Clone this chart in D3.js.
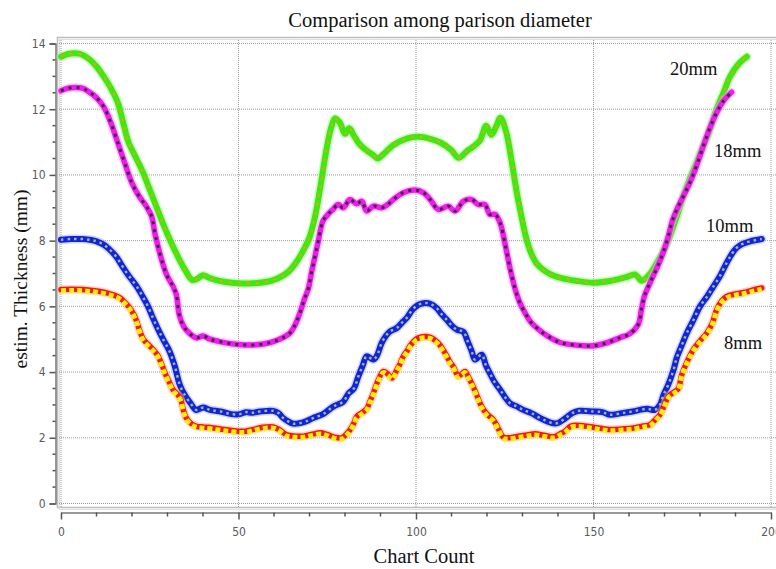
<!DOCTYPE html>
<html>
<head>
<meta charset="utf-8">
<script src="https://cdn.jsdelivr.net/npm/d3@7"></script>
<style>
  body { margin: 0; background: #fff; }
  svg { display: block; }
</style>
</head>
<body>
<div id="chart"></div>
<script>
// values (chart count, estim. thickness mm)
const x20 = [0,2,4,6,8,10,12,14,16,17.5,19,21,23,25,27,29,31,33,35,37,38.5,40,41.5,43,46,50,54,58,61,64,66,68,70,71.5,73,74.5,76,77.2,78.5,80,81.2,82.5,84,86,88,89.2,91,93.5,96,99,101,104,107,110,112,114.3,116,118,119.8,121.2,122.5,123.8,125.3,126.5,127.5,128.5,129.5,131,132.5,134,136,138,141,145,150,155,159,161.7,163.6,166,168,170,171.5,173.5,175.3,177,179,181,182.5,184.5,186.6,188.5,190.8,193.2]
const y20 = [13.6,13.68,13.7,13.66,13.52,13.3,13.0,12.65,12.2,11.6,11.0,10.55,10.1,9.55,9.0,8.45,7.95,7.5,7.1,6.8,6.85,6.95,6.88,6.82,6.75,6.7,6.7,6.75,6.85,7.05,7.3,7.65,8.1,8.7,9.6,10.6,11.4,11.72,11.6,11.25,11.42,11.2,10.95,10.75,10.6,10.5,10.65,10.9,11.05,11.15,11.16,11.1,10.98,10.75,10.52,10.72,10.85,11.05,11.5,11.22,11.45,11.74,11.35,10.7,10.05,9.4,8.85,8.1,7.6,7.3,7.1,6.97,6.86,6.78,6.72,6.78,6.88,6.97,6.78,7.0,7.35,7.75,8.13,8.75,9.35,9.85,10.37,10.9,11.3,11.95,12.5,13.0,13.37,13.6]

const x18 = [0,2,4,6,8,10,12,14,16,18,20,22,24,25.5,26.5,28,29.8,31.6,32.5,33.3,34.5,36,38.2,40,42,45,50,55,59,62,64.5,66,67.3,68.5,69.7,70.6,71.5,72.5,73.8,75.2,76.6,78.1,79.5,81.4,83.3,84.7,86.1,88,90.3,92,93.6,96.4,99.7,102.1,104,106.3,109.1,111,113.4,115.7,117.5,119.4,120.8,122.3,123.7,125,126.5,128,129.3,131,132.5,134.5,137,140.6,145,150,154,157.5,160,162.6,163.5,164.3,165.9,168,169.5,171,172.2,173.5,175.8,177.5,179,181,182.5,184.7,186.6,188.9]
const y18 = [12.56,12.64,12.66,12.64,12.52,12.35,12.08,11.6,10.98,10.35,9.75,9.35,9.05,8.75,8.2,7.55,6.95,6.6,6.35,5.75,5.4,5.2,5.04,5.1,5.0,4.92,4.84,4.83,4.9,5.02,5.19,5.45,5.8,6.2,6.55,7.05,7.5,8.0,8.6,8.8,8.95,9.1,9.0,9.25,9.12,9.2,8.9,9.05,9.0,9.1,9.25,9.46,9.54,9.46,9.25,8.95,9.05,8.9,9.2,9.25,9.1,9.1,8.8,8.8,8.54,7.95,7.15,6.5,6.1,5.75,5.5,5.3,5.1,4.9,4.82,4.8,4.9,5.05,5.15,5.45,5.9,6.3,6.71,7.2,7.6,8.1,8.6,8.95,9.46,9.85,10.27,10.9,11.35,11.9,12.25,12.52]

const x10 = [0,3,6,8.5,10,12,13.5,15.5,17,18.5,20,21.5,23,24.5,26,27.5,29,30.5,32,33.5,35,36.5,38,39,40.1,42,45,48,50.4,52,54,56,59.8,61.3,62.6,64,65.4,67,69,71,73.8,76.7,79.5,81,82.5,83.7,85,86.1,88,89,90.3,91.5,92.7,94.6,96,97.4,99,100.7,102.5,104,105.8,107.3,108.7,110,111.5,113.4,114.5,115.7,116.6,118.5,119.7,120.8,122,123.7,125,126.5,128.5,130.2,132.5,135,137,138.7,140,141.5,142.4,144,146,150,152.5,154.6,158,161,165,167.3,168.7,169.7,171,172.5,173.5,175,176.3,178,180,182,183.8,185.5,187.5,189,190.3,192,194.1,197.4]
const y10 = [8.03,8.05,8.05,8.02,7.98,7.88,7.75,7.52,7.27,7.02,6.8,6.58,6.3,6.0,5.62,5.27,4.95,4.65,4.2,3.6,3.28,3.05,2.85,2.88,2.92,2.85,2.8,2.72,2.72,2.78,2.76,2.8,2.82,2.75,2.6,2.5,2.43,2.44,2.5,2.6,2.72,2.95,3.1,3.35,3.5,3.85,4.2,4.48,4.38,4.5,4.88,5.1,5.24,5.34,5.5,5.65,5.9,6.05,6.1,6.08,5.95,5.75,5.59,5.42,5.29,5.22,4.95,4.63,4.38,4.53,4.2,3.97,3.72,3.46,3.25,3.05,2.95,2.85,2.75,2.6,2.5,2.44,2.45,2.55,2.62,2.75,2.82,2.8,2.78,2.7,2.75,2.8,2.88,2.85,3.0,3.3,3.6,4.05,4.45,4.85,5.19,5.55,6.0,6.3,6.61,6.9,7.32,7.6,7.78,7.9,7.98,8.05]

const x8 = [0,3,6,8.2,10.5,12.9,15,16.6,18,19.4,20.5,21.3,22.2,23.2,25.1,26.5,27.4,28.5,29.3,30.5,31.6,33,33.8,34.4,35.2,36.5,38.2,40,42.9,46,50,52,54,56.9,59.8,61.5,63.6,66,68.3,70.5,73,75,77,79.1,80.3,81.4,82.5,83.3,85,86.1,87,88,89.4,90.8,92,93.2,94.6,95.5,96.4,97.5,98.3,99.5,100.7,102.5,104,105,106.3,107.5,108.7,109.6,110.5,111.9,112.9,113.8,115,116.1,117.2,118.5,120,121.8,123,124.6,126,128,130.2,132,133.5,136,138.7,140.6,142,143.5,145,147.5,150,152.5,154.6,158,161.2,164,165.9,167.8,168.7,169.8,170.6,171.5,172.5,173.9,174.8,176.5,178.1,180,181.9,183.5,184.7,186,187.5,190,192.2,195,197.4]
const y8 = [6.51,6.52,6.51,6.49,6.46,6.41,6.34,6.26,6.12,5.95,5.75,5.55,5.25,5.0,4.78,4.62,4.48,4.2,3.97,3.7,3.46,3.3,3.15,2.88,2.62,2.45,2.35,2.33,2.3,2.25,2.2,2.2,2.25,2.32,2.33,2.25,2.09,2.05,2.05,2.1,2.15,2.1,2.02,2.0,2.1,2.24,2.45,2.65,2.78,2.88,3.1,3.36,3.77,4.02,3.95,3.82,4.07,4.25,4.48,4.65,4.8,4.95,5.04,5.08,5.06,5.0,4.88,4.7,4.48,4.3,4.17,3.88,3.95,4.02,3.8,3.56,3.28,2.95,2.72,2.55,2.32,2.02,2.0,2.03,2.07,2.1,2.12,2.08,2.03,2.12,2.2,2.35,2.38,2.36,2.32,2.28,2.25,2.27,2.3,2.36,2.4,2.6,2.7,2.95,3.16,3.3,3.38,3.5,3.9,4.35,4.68,4.95,5.19,5.5,5.9,6.15,6.3,6.38,6.42,6.5,6.56]

const xTicks = [0,50,100,150,200]
const yTicks = [0,2,4,6,8,10,12,14]

const seriesNames = ["20mm","18mm","10mm","8mm"]

const W = 776, H = 569
const svg = d3.select("#chart").append("svg").attr("width", W).attr("height", H)

const x = d3.scaleLinear().domain([0,200]).range([61,771])
const y = d3.scaleLinear().domain([0,14]).range([503.5,43.5])

// plot frame (grey double border, cut off at the right)
svg.append("rect").attr("x",57.5).attr("y",37.5).attr("width",730).attr("height",470)
  .attr("fill","none").attr("stroke","#bdbdbd").attr("stroke-width",1.5)
svg.append("rect").attr("x",59.5).attr("y",39.5).attr("width",730).attr("height",470)
  .attr("fill","none").attr("stroke","#e0e0e0").attr("stroke-width",1)

// dotted grid
svg.append("g").selectAll("line").data(yTicks).join("line")
  .attr("x1",59).attr("x2",W).attr("y1",d=>y(d)).attr("y2",d=>y(d))
  .attr("stroke","#9a9a9a").attr("stroke-width",1).attr("stroke-dasharray","1,1")
svg.append("g").selectAll("line").data(xTicks).join("line")
  .attr("x1",d=>x(d)).attr("x2",d=>x(d)).attr("y1",40).attr("y2",507)
  .attr("stroke","#9a9a9a").attr("stroke-width",1).attr("stroke-dasharray","1,1")

// y axis
const yAxis = svg.append("g").attr("transform","translate(55.5,0)")
  .call(d3.axisLeft(y).tickValues(yTicks).tickSize(6).tickPadding(4))
yAxis.select(".domain").attr("stroke","#777").attr("stroke-width",1.5)
yAxis.selectAll(".tick line").attr("stroke","#555").attr("stroke-width",1.5)
yAxis.selectAll(".tick text").attr("fill","#5a5a5a").attr("font-family","DejaVu Sans Condensed, DejaVu Sans").attr("font-size",12)
yAxis.append("g").selectAll("line").data(d3.range(0,14.01,0.5).filter(v=>v%2!==0)).join("line")
  .attr("x1",-3).attr("x2",0).attr("y1",d=>y(d)).attr("y2",d=>y(d))
  .attr("stroke","#555").attr("stroke-width",1.5)

// x axis (separate, below frame)
const xAxis = svg.append("g").attr("transform","translate(0,512.5)")
  .call(d3.axisBottom(x).tickValues(xTicks).tickSize(7).tickPadding(8).tickSizeOuter(0))
xAxis.select(".domain").attr("stroke","#777").attr("stroke-width",1.5)
xAxis.selectAll(".tick line").attr("stroke","#555").attr("stroke-width",1.5)
xAxis.selectAll(".tick text").attr("fill","#5a5a5a").attr("font-family","DejaVu Sans Condensed, DejaVu Sans").attr("font-size",12)
xAxis.append("g").selectAll("line").data(d3.range(10,200,10).filter(v=>v%50!==0)).join("line")
  .attr("x1",d=>x(d)).attr("x2",d=>x(d)).attr("y1",0).attr("y2",4)
  .attr("stroke","#555").attr("stroke-width",1.5)

// series
const line = d3.line().x(d=>x(d[0])).y(d=>y(d[1])).curve(d3.curveCatmullRom.alpha(0.5))
const pts = (xs,ys) => xs.map((v,i)=>[v,ys[i]])

const styles = [
  {data: pts(x20,y20), base:"#3dea0f", halo:"#9ff58a", w:6, dot:"#f29a1c", dw:2, dash:"3,6", dy:0},
  {data: pts(x18,y18), base:"#f01af0", halo:"#f7a0f7", w:5.5, dot:"#3a3038", dw:3, dash:"3,5", dy:0},
  {data: pts(x10,y10), base:"#1020f0", halo:"#a8b0fa", w:6, dot:"#a2cc22", dw:2.5, dash:"2.5,4", dy:0},
  {data: pts(x8,y8),   base:"#f21a10", halo:"#fbb0a0", w:5.5, dot:"#fff000", dw:5, dash:"5,3", dy:1.2}
]

const gS = svg.append("g")
styles.forEach(s => {
  gS.append("path").datum(s.data).attr("d",line).attr("fill","none")
    .attr("stroke",s.halo).attr("stroke-width",s.w+3).attr("stroke-opacity",0.5)
    .attr("stroke-linejoin","round").attr("stroke-linecap","round")
  gS.append("path").datum(s.data).attr("d",line).attr("fill","none")
    .attr("stroke",s.base).attr("stroke-width",s.w)
    .attr("stroke-linejoin","round").attr("stroke-linecap","round")
  gS.append("path").datum(s.data).attr("d",line).attr("fill","none")
    .attr("transform",`translate(0,${s.dy})`)
    .attr("stroke",s.dot).attr("stroke-width",s.dw).attr("stroke-dasharray",s.dash)
})

// series labels
const labelPos = [[670,75],[714,157],[706,232],[724,349]]
svg.append("g").selectAll("text").data(seriesNames).join("text")
  .attr("x",(d,i)=>labelPos[i][0]).attr("y",(d,i)=>labelPos[i][1])
  .attr("font-family","Liberation Serif, Times New Roman, serif").attr("font-size",18.5)
  .attr("fill","#111").text(d=>d)

// title and axis titles
svg.append("text").attr("x",440).attr("y",27).attr("text-anchor","middle")
  .attr("font-family","Liberation Serif, Times New Roman, serif").attr("font-size",20.5)
  .attr("fill","#111").text("Comparison among parison diameter")
svg.append("text").attr("x",424).attr("y",563).attr("text-anchor","middle")
  .attr("font-family","Liberation Serif, Times New Roman, serif").attr("font-size",20.5)
  .attr("fill","#111").text("Chart Count")
svg.append("text").attr("transform","translate(27,279) rotate(-90)").attr("text-anchor","middle")
  .attr("font-family","Liberation Serif, Times New Roman, serif").attr("font-size",19.5)
  .attr("fill","#111").text("estim. Thickness (mm)")
</script>
</body>
</html>
